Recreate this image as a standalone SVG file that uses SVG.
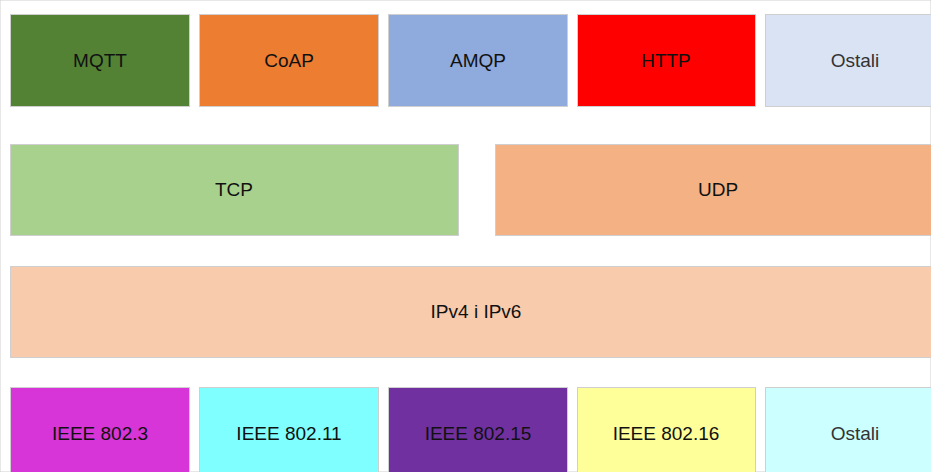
<svg xmlns="http://www.w3.org/2000/svg" width="931" height="472" viewBox="0 0 931 472">
<style>
rect{stroke:#cfcfcf;stroke-width:1}
text{font-family:"Liberation Sans",Arial,sans-serif;font-size:19px;text-anchor:middle;dominant-baseline:central;fill:#111}
</style>
<rect x="0" y="0" width="931" height="472" fill="#fff" stroke="none"/>
<g id="mqtt"><rect x="10.5" y="14.5" width="179" height="92" fill="#548235"/><text x="100" y="60">MQTT</text></g>
<g id="coap"><rect x="199.5" y="14.5" width="179" height="92" fill="#ED7D31"/><text x="289" y="60">CoAP</text></g>
<g id="amqp"><rect x="388.5" y="14.5" width="179" height="92" fill="#8FAADC"/><text x="478" y="60">AMQP</text></g>
<g id="http"><rect x="577.5" y="14.5" width="178" height="92" fill="#FF0000"/><text x="666" y="60">HTTP</text></g>
<g id="ostali1"><rect x="765.5" y="14.5" width="180" height="92" fill="#DAE3F3"/><text x="855" y="60" style="fill:#333">Ostali</text></g>
<g id="tcp"><rect x="10.5" y="144.5" width="448" height="91" fill="#A9D18E"/><text x="234" y="189">TCP</text></g>
<g id="udp"><rect x="495.5" y="144.5" width="450" height="91" fill="#F4B183"/><text x="718" y="189">UDP</text></g>
<g id="ip"><rect x="10.5" y="266.5" width="935" height="91" fill="#F8CBAD"/><text x="476" y="311">IPv4 i IPv6</text></g>
<g id="ieee8023"><rect x="10.5" y="387.5" width="179" height="100" fill="#D735D7"/><text x="100" y="433">IEEE 802.3</text></g>
<g id="ieee80211"><rect x="199.5" y="387.5" width="179" height="100" fill="#7FFFFF"/><text x="289" y="433">IEEE 802.11</text></g>
<g id="ieee80215"><rect x="388.5" y="387.5" width="179" height="100" fill="#7030A0"/><text x="478" y="433">IEEE 802.15</text></g>
<g id="ieee80216"><rect x="577.5" y="387.5" width="178" height="100" fill="#FFFF99"/><text x="666" y="433">IEEE 802.16</text></g>
<g id="ostali2"><rect x="765.5" y="387.5" width="180" height="100" fill="#CCFFFF"/><text x="855" y="433" style="fill:#333">Ostali</text></g>
<g id="connectors"></g>
</svg>
